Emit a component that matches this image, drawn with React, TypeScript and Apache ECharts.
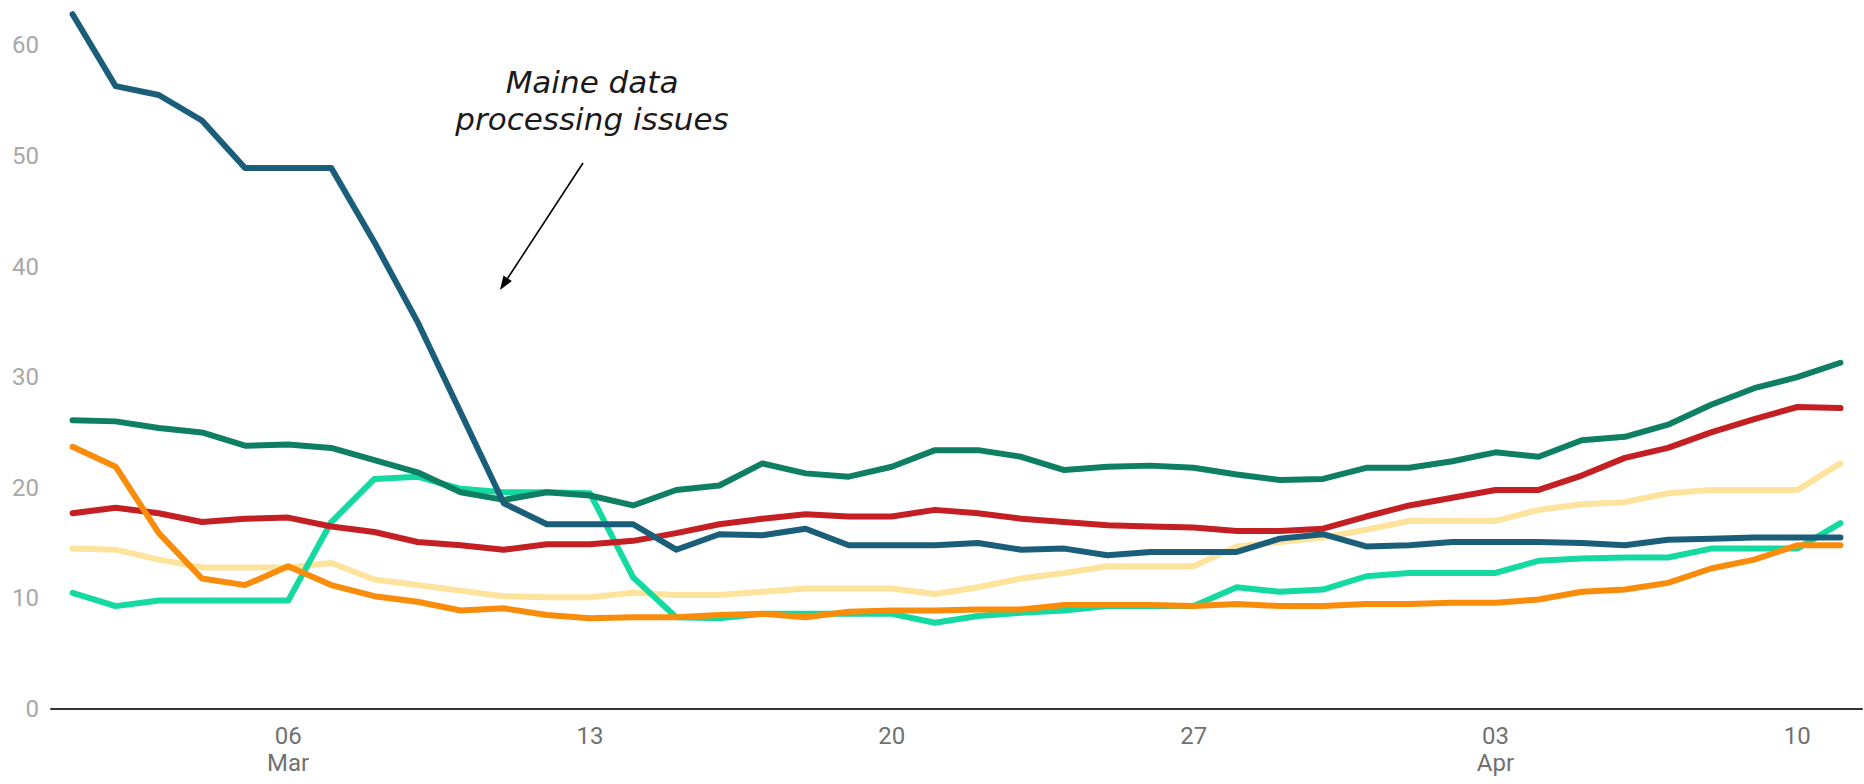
import React, { useEffect, useRef } from "react";
import * as echarts from "echarts";

// Daily dates, 1 March – 11 April
const categories = [
  "03-01", "03-02", "03-03", "03-04", "03-05", "03-06", "03-07", "03-08", "03-09", "03-10",
  "03-11", "03-12", "03-13", "03-14", "03-15", "03-16", "03-17", "03-18", "03-19", "03-20",
  "03-21", "03-22", "03-23", "03-24", "03-25", "03-26", "03-27", "03-28", "03-29", "03-30",
  "03-31", "04-01", "04-02", "04-03", "04-04", "04-05", "04-06", "04-07", "04-08", "04-09",
  "04-10", "04-11",
];

// Labelled ticks on the x axis
const tickDates = ["03-06", "03-13", "03-20", "03-27", "04-03", "04-10"];
const tickLabels = ["06\nMar", "13", "20", "27", "03\nApr", "10"];

const maine = [
  62.8, 56.3, 55.5, 53.2, 48.9, 48.9, 48.9, 42.2, 35.0, 26.8,
  18.6, 16.7, 16.7, 16.7, 14.4, 15.8, 15.7, 16.3, 14.8, 14.8,
  14.8, 15.0, 14.4, 14.5, 13.9, 14.2, 14.2, 14.2, 15.4, 15.8,
  14.7, 14.8, 15.1, 15.1, 15.1, 15.0, 14.8, 15.3, 15.4, 15.5,
  15.5, 15.5,
];
const darkGreen = [
  26.1, 26.0, 25.4, 25.0, 23.8, 23.9, 23.6, 22.5, 21.4, 19.6,
  18.9, 19.6, 19.3, 18.4, 19.8, 20.2, 22.2, 21.3, 21.0, 21.9,
  23.4, 23.4, 22.8, 21.6, 21.9, 22.0, 21.8, 21.2, 20.7, 20.8,
  21.8, 21.8, 22.4, 23.2, 22.8, 24.3, 24.6, 25.7, 27.5, 29.0,
  30.0, 31.3,
];
const red = [
  17.7, 18.2, 17.7, 16.9, 17.2, 17.3, 16.5, 16.0, 15.1, 14.8,
  14.4, 14.9, 14.9, 15.2, 15.9, 16.7, 17.2, 17.6, 17.4, 17.4,
  18.0, 17.7, 17.2, 16.9, 16.6, 16.5, 16.4, 16.1, 16.1, 16.3,
  17.4, 18.4, 19.1, 19.8, 19.8, 21.1, 22.7, 23.6, 25.0, 26.2,
  27.3, 27.2,
];
const yellow = [
  14.5, 14.4, 13.5, 12.8, 12.8, 12.8, 13.2, 11.7, 11.2, 10.7,
  10.2, 10.1, 10.1, 10.5, 10.3, 10.3, 10.6, 10.9, 10.9, 10.9,
  10.4, 11.0, 11.8, 12.3, 12.9, 12.9, 12.9, 14.7, 15.1, 15.5,
  16.2, 17.0, 17.0, 17.0, 18.0, 18.5, 18.7, 19.5, 19.8, 19.8,
  19.8, 22.2,
];
const mint = [
  10.5, 9.3, 9.8, 9.8, 9.8, 9.8, 16.9, 20.8, 21.0, 19.9,
  19.6, 19.6, 19.5, 11.9, 8.3, 8.2, 8.6, 8.6, 8.6, 8.6,
  7.8, 8.4, 8.7, 8.9, 9.3, 9.3, 9.3, 11.0, 10.6, 10.8,
  12.0, 12.3, 12.3, 12.3, 13.4, 13.6, 13.7, 13.7, 14.5, 14.5,
  14.5, 16.8,
];
const orange = [
  23.7, 21.9, 15.9, 11.8, 11.2, 12.9, 11.2, 10.2, 9.7, 8.9,
  9.1, 8.5, 8.2, 8.3, 8.3, 8.5, 8.6, 8.3, 8.8, 8.9,
  8.9, 9.0, 9.0, 9.4, 9.4, 9.4, 9.3, 9.5, 9.3, 9.3,
  9.5, 9.5, 9.6, 9.6, 9.9, 10.6, 10.8, 11.4, 12.7, 13.5,
  14.8, 14.8,
];

const annotationLines = ["Maine data", "processing issues"];

export default function App() {
  const ref = useRef<HTMLDivElement>(null);

  useEffect(() => {
    document.body.style.margin = "0";
    const chart = echarts.init(ref.current!, null, { renderer: "svg" });

    const mk = (name: string, data: number[], color: string, z: number) => ({
      name,
      type: "line",
      data,
      symbol: "none",
      z,
      lineStyle: { color, width: 6, cap: "round", join: "round" },
      emphasis: { disabled: true },
    });

    const arrowTip = [500, 290];
    const arrowStart = [583, 163];
    const dx = arrowTip[0] - arrowStart[0];
    const dy = arrowTip[1] - arrowStart[1];
    const len = Math.sqrt(dx * dx + dy * dy);
    const ux = dx / len, uy = dy / len;
    const headLen = 14, headHalf = 5;
    const bx = arrowTip[0] - ux * headLen, by = arrowTip[1] - uy * headLen;
    const px = -uy, py = ux;

    chart.setOption({
      animation: false,
      backgroundColor: "#ffffff",
      grid: { left: 51, right: 2, top: 1, bottom: 75, containLabel: false },
      xAxis: {
        type: "category",
        data: categories,
        boundaryGap: true,
        axisLine: { show: true, lineStyle: { color: "#333333", width: 2 } },
        axisTick: { show: false },
        axisLabel: {
          interval: (idx: number, val: string) => tickDates.indexOf(val) >= 0,
          formatter: (val: string) => {
            const i = tickDates.indexOf(val);
            return i >= 0 ? tickLabels[i] : "";
          },
          color: "#717171",
          fontFamily: "Roboto",
          fontSize: 24,
          lineHeight: 27,
          margin: 13,
        },
        splitLine: { show: false },
      },
      yAxis: {
        type: "value",
        min: 0,
        max: 64,
        interval: 10,
        axisLine: { show: false },
        axisTick: { show: false },
        splitLine: { show: false },
        axisLabel: {
          showMaxLabel: false,
          color: "#a8a8a8",
          fontFamily: "Roboto",
          fontSize: 24,
          margin: 12,
          formatter: (v: number) => (v % 10 === 0 ? String(v) : ""),
        },
      },
      series: [
        mk("Yellow", yellow, "#fde39c", 1),
        mk("Mint", mint, "#14d9a0", 2),
        mk("Dark green", darkGreen, "#0e7f63", 3),
        mk("Red", red, "#c41f23", 4),
        mk("Orange", orange, "#f98d0b", 5),
        mk("Maine", maine, "#1b5e7a", 6),
      ],
      graphic: [
        {
          type: "text",
          x: 592,
          y: 82,
          style: {
            text: annotationLines[0],
            font: "italic 31px 'DejaVu Sans'",
            fill: "#1a1a1a",
            textAlign: "center",
            textVerticalAlign: "middle",
          },
        },
        {
          type: "text",
          x: 592,
          y: 119,
          style: {
            text: annotationLines[1],
            font: "italic 31px 'DejaVu Sans'",
            fill: "#1a1a1a",
            textAlign: "center",
            textVerticalAlign: "middle",
          },
        },
        {
          type: "line",
          shape: { x1: arrowStart[0], y1: arrowStart[1], x2: bx, y2: by },
          style: { stroke: "#000000", lineWidth: 1.6 },
        },
        {
          type: "polygon",
          shape: {
            points: [
              [arrowTip[0], arrowTip[1]],
              [bx + px * headHalf, by + py * headHalf],
              [bx - px * headHalf, by - py * headHalf],
            ],
          },
          style: { fill: "#000000" },
        },
      ],
    });

    return () => chart.dispose();
  }, []);

  return <div ref={ref} style={{ width: 1864, height: 784 }} />;
}
